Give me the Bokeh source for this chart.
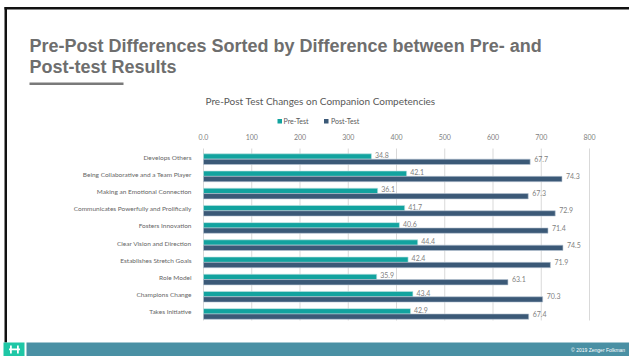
from bokeh.plotting import figure
from bokeh.models import (Range1d, Label, BoxAnnotation, FixedTicker, LinearAxis,
                          ColumnDataSource)
from bokeh.transform import dodge
from bokeh.core.properties import value
from bokeh.embed import file_html
from bokeh.resources import INLINE

# ---------------- data ----------------
categories = [
    "Develops Others",
    "Being Collaborative and a Team Player",
    "Making an Emotional Connection",
    "Communicates Powerfully and Prolifically",
    "Fosters Innovation",
    "Clear Vision and Direction",
    "Establishes Stretch Goals",
    "Role Model",
    "Champions Change",
    "Takes Initiative",
]
pre_test = [34.8, 42.1, 36.1, 41.7, 40.6, 44.4, 42.4, 35.9, 43.4, 42.9]
post_test = [67.7, 74.3, 67.3, 72.9, 71.4, 74.5, 71.9, 63.1, 70.3, 67.4]
series_names = ["Pre-Test", "Post-Test"]
tick_values = [0, 10, 20, 30, 40, 50, 60, 70, 80]
tick_labels = ["0.0", "100", "200", "300", "400", "500", "600", "700", "800"]

slide_title = "Pre-Post Differences Sorted by Difference between Pre- and"
slide_title2 = "Post-test Results"
chart_title = "Pre-Post Test Changes on Companion Competencies"
footer_text = "\u00a9 2019  Zenger Folkman"

# ---------------- styles / layout ----------------
TEAL = "#12a39f"
NAVY = "#3b5977"
FOOT = "#4a90a4"
LOGO = "#1fc7a6"
GRAY = "#595959"
CGRAY = "#666666"
LGRAY = "#7f7f7f"
FONT = "Lato"

W, H = 629, 356
# pixel box of the chart's plotting area inside the slide
AL, AR, AT, AB = 203.0, 589.0, 148.0, 320.0
n = len(categories)
x_min, x_max = tick_values[0], tick_values[-1]
ppx = (AR - AL) / (x_max - x_min)          # pixels per x unit
ppy = (AB - AT) / n                         # pixels per category band

idx = list(range(n))
src = ColumnDataSource(dict(
    idx=idx,
    pre=pre_test,
    post=post_test,
    pre_lbl=[f"{v:.1f}" for v in pre_test],
    post_lbl=[f"{v:.1f}" for v in post_test],
))

# the plotting frame fills the whole slide; category i is centred on index i
x_range = Range1d(x_min - AL / ppx, x_max + (W - AR) / ppx)
y_range = Range1d(start=-0.5 + (H - AT) / ppy, end=-0.5 - AT / ppy)

p = figure(width=W, height=H, output_backend="svg", toolbar_location=None,
           x_range=x_range, y_range=y_range, x_axis_type=None, y_axis_type=None,
           min_border=0, min_border_left=0, min_border_right=0,
           min_border_top=0, min_border_bottom=0)
p.extra_x_ranges = {"px": Range1d(0, W)}
p.extra_y_ranges = {"px": Range1d(start=H, end=0)}
p.outline_line_color = None
p.background_fill_color = "white"
p.border_fill_color = "white"
p.xgrid.visible = False
p.ygrid.visible = False

# vertical gridlines, limited to the category area
p.segment(x0=tick_values, x1=tick_values, y0=[-0.5] * len(tick_values),
          y1=[n - 0.5] * len(tick_values), line_color="#d9d9d9", line_width=1)

# bars (pre above post inside each band)
bar_h = 0.31
shift = 0.12
p.hbar(y=dodge("idx", shift - bar_h / 2), right="pre", left=0,
       height=bar_h, source=src, fill_color=TEAL, line_color="#bfe3e2", line_width=0.6)
p.hbar(y=dodge("idx", shift + bar_h / 2), right="post", left=0,
       height=bar_h, source=src, fill_color=NAVY, line_color="#b9c6d3", line_width=0.6)

# value labels
p.text(x="pre", y=dodge("idx", shift - bar_h / 2), text="pre_lbl",
       source=src, x_offset=3.5, y_offset=-1.5, text_font=value(FONT),
       text_font_size="7px", text_color=LGRAY, text_baseline="middle", text_align="left")
p.text(x="post", y=dodge("idx", shift + bar_h / 2), text="post_lbl",
       source=src, x_offset=4, y_offset=-3, text_font=value(FONT),
       text_font_size="7px", text_color=LGRAY, text_baseline="middle", text_align="left")

# axes, fixed at the edges of the category area
xa = LinearAxis(fixed_location=-0.5, ticker=FixedTicker(ticks=tick_values),
                major_label_overrides={t: l for t, l in zip(tick_values, tick_labels)},
                axis_line_color=None, major_tick_line_color=None, minor_tick_line_color=None,
                major_label_text_font=FONT, major_label_text_font_size="7px",
                major_label_text_color=LGRAY, major_label_standoff=3)
p.add_layout(xa, "above")

ya = LinearAxis(fixed_location=0, ticker=FixedTicker(ticks=idx),
                major_label_overrides={i: c for i, c in zip(idx, categories)},
                axis_line_color=None, major_tick_line_color=None, minor_tick_line_color=None,
                major_label_text_font=FONT, major_label_text_font_size="6.5px",
                major_label_text_color=CGRAY, major_label_standoff=6)
p.add_layout(ya, "left")


def box(l, r, t, b, color):
    p.add_layout(BoxAnnotation(left=l, right=r, top=t, bottom=b,
                               x_range_name="px", y_range_name="px",
                               fill_color=color, fill_alpha=1, line_alpha=0))


def label(x, y, text, size, color, font=FONT, align="left", baseline="middle", style="normal"):
    p.add_layout(Label(x=x, y=y, text=text, x_range_name="px", y_range_name="px",
                       text_font=font, text_font_size=size, text_color=color,
                       text_align=align, text_baseline=baseline, text_font_style=style))


# slide frame
box(4, W, 6.5, 9, "#111111")
box(4, 6.5, 6.5, 342, "#111111")

# slide title
label(29, 45.5, slide_title, "18px", "#6e6e6e", font="Liberation Sans", style="bold")
label(29, 66.5, slide_title2, "18px", "#6e6e6e", font="Liberation Sans", style="bold")
box(29, 123, 82, 84.5, "#7a7a7a")

# chart title
label(320, 100, chart_title, "10px", GRAY, align="center")

# legend
box(277, 281.5, 118.5, 123, TEAL)
label(283, 120.5, series_names[0], "7px", GRAY)
box(323.5, 328, 118.5, 123, NAVY)
label(330.5, 120.5, series_names[1], "7px", GRAY)

# footer
box(26, W, 342, H, FOOT)
box(3, 24, 342, H, LOGO)
box(8.5, 19.5, 348, 349.8, "white")
box(9.5, 11.3, 345, 353, "white")
box(16.5, 18.3, 345, 353, "white")
label(626, 349.5, footer_text, "5px", "white", font="Liberation Sans", align="right")

open("out.html", "w").write(file_html(p, INLINE))
